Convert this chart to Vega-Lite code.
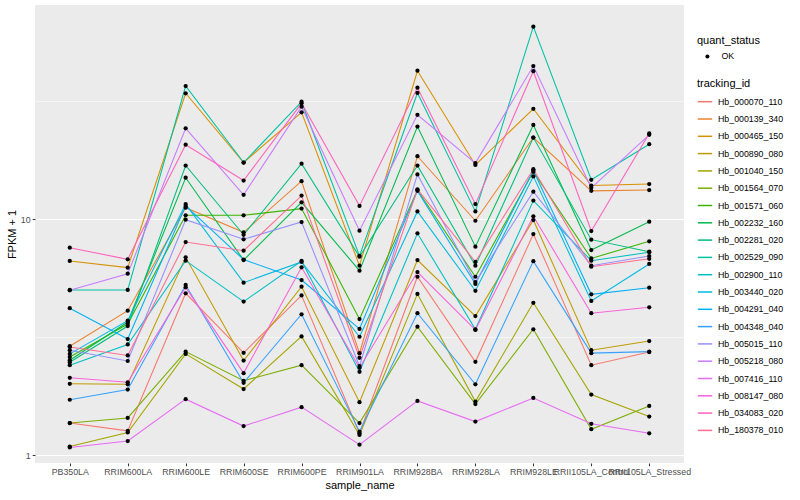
{
 "$schema": "https://vega.github.io/schema/vega-lite/v6.json",
 "width": 649,
 "height": 458,
 "autosize": {"type": "none"},
 "padding": {"left": 35, "top": 5, "right": 116, "bottom": 37},
 "background": "white",
 "config": {
  "font": "Liberation Sans",
  "view": {"fill": "#EBEBEB", "stroke": null},
  "axis": {"domain": false, "tickColor": "#333333", "tickSize": 2.75, "tickWidth": 1.07, "labelFontSize": 8.8, "labelColor": "#4D4D4D", "labelPadding": 2.2, "gridColor": "#FFFFFF", "gridWidth": 1.07, "titleFontSize": 11, "titleFontWeight": "normal", "titleColor": "#000000", "labelOverlap": false},
  "legend": {"labelFontSize": 8.8, "labelColor": "#000000", "titleFontSize": 11, "titleFontWeight": "normal", "titleColor": "#000000"}
 },
 "datasets": {
  "fpkm": [
{"tracking_id":"Hb_000070_110","sample_name":"PB350LA","FPKM":1.37,"quant_status":"OK"},
{"tracking_id":"Hb_000070_110","sample_name":"RRIM600LA","FPKM":1.27,"quant_status":"OK"},
{"tracking_id":"Hb_000070_110","sample_name":"RRIM600LE","FPKM":4.86,"quant_status":"OK"},
{"tracking_id":"Hb_000070_110","sample_name":"RRIM600SE","FPKM":2.72,"quant_status":"OK"},
{"tracking_id":"Hb_000070_110","sample_name":"RRIM600PE","FPKM":4.76,"quant_status":"OK"},
{"tracking_id":"Hb_000070_110","sample_name":"RRIM901LA","FPKM":1.24,"quant_status":"OK"},
{"tracking_id":"Hb_000070_110","sample_name":"RRIM928BA","FPKM":5.71,"quant_status":"OK"},
{"tracking_id":"Hb_000070_110","sample_name":"RRIM928LA","FPKM":2.49,"quant_status":"OK"},
{"tracking_id":"Hb_000070_110","sample_name":"RRIM928LE","FPKM":8.66,"quant_status":"OK"},
{"tracking_id":"Hb_000070_110","sample_name":"RRII105LA_Control","FPKM":2.41,"quant_status":"OK"},
{"tracking_id":"Hb_000070_110","sample_name":"RRII105LA_Stressed","FPKM":2.74,"quant_status":"OK"},
{"tracking_id":"Hb_000139_340","sample_name":"PB350LA","FPKM":2.90,"quant_status":"OK"},
{"tracking_id":"Hb_000139_340","sample_name":"RRIM600LA","FPKM":4.10,"quant_status":"OK"},
{"tracking_id":"Hb_000139_340","sample_name":"RRIM600LE","FPKM":11.2,"quant_status":"OK"},
{"tracking_id":"Hb_000139_340","sample_name":"RRIM600SE","FPKM":8.81,"quant_status":"OK"},
{"tracking_id":"Hb_000139_340","sample_name":"RRIM600PE","FPKM":14.5,"quant_status":"OK"},
{"tracking_id":"Hb_000139_340","sample_name":"RRIM901LA","FPKM":2.71,"quant_status":"OK"},
{"tracking_id":"Hb_000139_340","sample_name":"RRIM928BA","FPKM":18.5,"quant_status":"OK"},
{"tracking_id":"Hb_000139_340","sample_name":"RRIM928LA","FPKM":9.86,"quant_status":"OK"},
{"tracking_id":"Hb_000139_340","sample_name":"RRIM928LE","FPKM":22.2,"quant_status":"OK"},
{"tracking_id":"Hb_000139_340","sample_name":"RRII105LA_Control","FPKM":13.2,"quant_status":"OK"},
{"tracking_id":"Hb_000139_340","sample_name":"RRII105LA_Stressed","FPKM":13.3,"quant_status":"OK"},
{"tracking_id":"Hb_000465_150","sample_name":"PB350LA","FPKM":6.66,"quant_status":"OK"},
{"tracking_id":"Hb_000465_150","sample_name":"RRIM600LA","FPKM":6.24,"quant_status":"OK"},
{"tracking_id":"Hb_000465_150","sample_name":"RRIM600LE","FPKM":34.2,"quant_status":"OK"},
{"tracking_id":"Hb_000465_150","sample_name":"RRIM600SE","FPKM":17.4,"quant_status":"OK"},
{"tracking_id":"Hb_000465_150","sample_name":"RRIM600PE","FPKM":28.4,"quant_status":"OK"},
{"tracking_id":"Hb_000465_150","sample_name":"RRIM901LA","FPKM":6.36,"quant_status":"OK"},
{"tracking_id":"Hb_000465_150","sample_name":"RRIM928BA","FPKM":42.6,"quant_status":"OK"},
{"tracking_id":"Hb_000465_150","sample_name":"RRIM928LA","FPKM":17.0,"quant_status":"OK"},
{"tracking_id":"Hb_000465_150","sample_name":"RRIM928LE","FPKM":29.4,"quant_status":"OK"},
{"tracking_id":"Hb_000465_150","sample_name":"RRII105LA_Control","FPKM":13.9,"quant_status":"OK"},
{"tracking_id":"Hb_000465_150","sample_name":"RRII105LA_Stressed","FPKM":14.1,"quant_status":"OK"},
{"tracking_id":"Hb_000890_080","sample_name":"PB350LA","FPKM":2.01,"quant_status":"OK"},
{"tracking_id":"Hb_000890_080","sample_name":"RRIM600LA","FPKM":2.00,"quant_status":"OK"},
{"tracking_id":"Hb_000890_080","sample_name":"RRIM600LE","FPKM":6.90,"quant_status":"OK"},
{"tracking_id":"Hb_000890_080","sample_name":"RRIM600SE","FPKM":2.52,"quant_status":"OK"},
{"tracking_id":"Hb_000890_080","sample_name":"RRIM600PE","FPKM":5.18,"quant_status":"OK"},
{"tracking_id":"Hb_000890_080","sample_name":"RRIM901LA","FPKM":1.68,"quant_status":"OK"},
{"tracking_id":"Hb_000890_080","sample_name":"RRIM928BA","FPKM":6.72,"quant_status":"OK"},
{"tracking_id":"Hb_000890_080","sample_name":"RRIM928LA","FPKM":3.89,"quant_status":"OK"},
{"tracking_id":"Hb_000890_080","sample_name":"RRIM928LE","FPKM":9.93,"quant_status":"OK"},
{"tracking_id":"Hb_000890_080","sample_name":"RRII105LA_Control","FPKM":2.79,"quant_status":"OK"},
{"tracking_id":"Hb_000890_080","sample_name":"RRII105LA_Stressed","FPKM":3.05,"quant_status":"OK"},
{"tracking_id":"Hb_001040_150","sample_name":"PB350LA","FPKM":1.09,"quant_status":"OK"},
{"tracking_id":"Hb_001040_150","sample_name":"RRIM600LA","FPKM":1.25,"quant_status":"OK"},
{"tracking_id":"Hb_001040_150","sample_name":"RRIM600LE","FPKM":2.69,"quant_status":"OK"},
{"tracking_id":"Hb_001040_150","sample_name":"RRIM600SE","FPKM":1.91,"quant_status":"OK"},
{"tracking_id":"Hb_001040_150","sample_name":"RRIM600PE","FPKM":3.19,"quant_status":"OK"},
{"tracking_id":"Hb_001040_150","sample_name":"RRIM901LA","FPKM":1.22,"quant_status":"OK"},
{"tracking_id":"Hb_001040_150","sample_name":"RRIM928BA","FPKM":4.83,"quant_status":"OK"},
{"tracking_id":"Hb_001040_150","sample_name":"RRIM928LA","FPKM":1.69,"quant_status":"OK"},
{"tracking_id":"Hb_001040_150","sample_name":"RRIM928LE","FPKM":4.43,"quant_status":"OK"},
{"tracking_id":"Hb_001040_150","sample_name":"RRII105LA_Control","FPKM":1.81,"quant_status":"OK"},
{"tracking_id":"Hb_001040_150","sample_name":"RRII105LA_Stressed","FPKM":1.46,"quant_status":"OK"},
{"tracking_id":"Hb_001564_070","sample_name":"PB350LA","FPKM":1.37,"quant_status":"OK"},
{"tracking_id":"Hb_001564_070","sample_name":"RRIM600LA","FPKM":1.44,"quant_status":"OK"},
{"tracking_id":"Hb_001564_070","sample_name":"RRIM600LE","FPKM":2.75,"quant_status":"OK"},
{"tracking_id":"Hb_001564_070","sample_name":"RRIM600SE","FPKM":2.07,"quant_status":"OK"},
{"tracking_id":"Hb_001564_070","sample_name":"RRIM600PE","FPKM":2.41,"quant_status":"OK"},
{"tracking_id":"Hb_001564_070","sample_name":"RRIM901LA","FPKM":1.37,"quant_status":"OK"},
{"tracking_id":"Hb_001564_070","sample_name":"RRIM928BA","FPKM":3.51,"quant_status":"OK"},
{"tracking_id":"Hb_001564_070","sample_name":"RRIM928LA","FPKM":1.65,"quant_status":"OK"},
{"tracking_id":"Hb_001564_070","sample_name":"RRIM928LE","FPKM":3.42,"quant_status":"OK"},
{"tracking_id":"Hb_001564_070","sample_name":"RRII105LA_Control","FPKM":1.29,"quant_status":"OK"},
{"tracking_id":"Hb_001564_070","sample_name":"RRII105LA_Stressed","FPKM":1.62,"quant_status":"OK"},
{"tracking_id":"Hb_001571_060","sample_name":"PB350LA","FPKM":2.61,"quant_status":"OK"},
{"tracking_id":"Hb_001571_060","sample_name":"RRIM600LA","FPKM":3.60,"quant_status":"OK"},
{"tracking_id":"Hb_001571_060","sample_name":"RRIM600LE","FPKM":10.4,"quant_status":"OK"},
{"tracking_id":"Hb_001571_060","sample_name":"RRIM600SE","FPKM":10.4,"quant_status":"OK"},
{"tracking_id":"Hb_001571_060","sample_name":"RRIM600PE","FPKM":11.1,"quant_status":"OK"},
{"tracking_id":"Hb_001571_060","sample_name":"RRIM901LA","FPKM":3.78,"quant_status":"OK"},
{"tracking_id":"Hb_001571_060","sample_name":"RRIM928BA","FPKM":13.3,"quant_status":"OK"},
{"tracking_id":"Hb_001571_060","sample_name":"RRIM928LA","FPKM":5.71,"quant_status":"OK"},
{"tracking_id":"Hb_001571_060","sample_name":"RRIM928LE","FPKM":15.9,"quant_status":"OK"},
{"tracking_id":"Hb_001571_060","sample_name":"RRII105LA_Control","FPKM":6.83,"quant_status":"OK"},
{"tracking_id":"Hb_001571_060","sample_name":"RRII105LA_Stressed","FPKM":8.07,"quant_status":"OK"},
{"tracking_id":"Hb_002232_160","sample_name":"PB350LA","FPKM":2.53,"quant_status":"OK"},
{"tracking_id":"Hb_002232_160","sample_name":"RRIM600LA","FPKM":3.67,"quant_status":"OK"},
{"tracking_id":"Hb_002232_160","sample_name":"RRIM600LE","FPKM":15.0,"quant_status":"OK"},
{"tracking_id":"Hb_002232_160","sample_name":"RRIM600SE","FPKM":6.72,"quant_status":"OK"},
{"tracking_id":"Hb_002232_160","sample_name":"RRIM600PE","FPKM":11.8,"quant_status":"OK"},
{"tracking_id":"Hb_002232_160","sample_name":"RRIM901LA","FPKM":6.06,"quant_status":"OK"},
{"tracking_id":"Hb_002232_160","sample_name":"RRIM928BA","FPKM":24.7,"quant_status":"OK"},
{"tracking_id":"Hb_002232_160","sample_name":"RRIM928LA","FPKM":7.66,"quant_status":"OK"},
{"tracking_id":"Hb_002232_160","sample_name":"RRIM928LE","FPKM":25.1,"quant_status":"OK"},
{"tracking_id":"Hb_002232_160","sample_name":"RRII105LA_Control","FPKM":7.41,"quant_status":"OK"},
{"tracking_id":"Hb_002232_160","sample_name":"RRII105LA_Stressed","FPKM":9.77,"quant_status":"OK"},
{"tracking_id":"Hb_002281_020","sample_name":"PB350LA","FPKM":2.48,"quant_status":"OK"},
{"tracking_id":"Hb_002281_020","sample_name":"RRIM600LA","FPKM":3.53,"quant_status":"OK"},
{"tracking_id":"Hb_002281_020","sample_name":"RRIM600LE","FPKM":16.9,"quant_status":"OK"},
{"tracking_id":"Hb_002281_020","sample_name":"RRIM600SE","FPKM":8.60,"quant_status":"OK"},
{"tracking_id":"Hb_002281_020","sample_name":"RRIM600PE","FPKM":17.2,"quant_status":"OK"},
{"tracking_id":"Hb_002281_020","sample_name":"RRIM901LA","FPKM":6.94,"quant_status":"OK"},
{"tracking_id":"Hb_002281_020","sample_name":"RRIM928BA","FPKM":16.9,"quant_status":"OK"},
{"tracking_id":"Hb_002281_020","sample_name":"RRIM928LA","FPKM":6.36,"quant_status":"OK"},
{"tracking_id":"Hb_002281_020","sample_name":"RRIM928LE","FPKM":22.2,"quant_status":"OK"},
{"tracking_id":"Hb_002281_020","sample_name":"RRII105LA_Control","FPKM":8.20,"quant_status":"OK"},
{"tracking_id":"Hb_002281_020","sample_name":"RRII105LA_Stressed","FPKM":7.29,"quant_status":"OK"},
{"tracking_id":"Hb_002529_090","sample_name":"PB350LA","FPKM":5.02,"quant_status":"OK"},
{"tracking_id":"Hb_002529_090","sample_name":"RRIM600LA","FPKM":5.02,"quant_status":"OK"},
{"tracking_id":"Hb_002529_090","sample_name":"RRIM600LE","FPKM":36.7,"quant_status":"OK"},
{"tracking_id":"Hb_002529_090","sample_name":"RRIM600SE","FPKM":17.4,"quant_status":"OK"},
{"tracking_id":"Hb_002529_090","sample_name":"RRIM600PE","FPKM":31.5,"quant_status":"OK"},
{"tracking_id":"Hb_002529_090","sample_name":"RRIM901LA","FPKM":7.00,"quant_status":"OK"},
{"tracking_id":"Hb_002529_090","sample_name":"RRIM928BA","FPKM":34.3,"quant_status":"OK"},
{"tracking_id":"Hb_002529_090","sample_name":"RRIM928LA","FPKM":10.8,"quant_status":"OK"},
{"tracking_id":"Hb_002529_090","sample_name":"RRIM928LE","FPKM":65.5,"quant_status":"OK"},
{"tracking_id":"Hb_002529_090","sample_name":"RRII105LA_Control","FPKM":14.7,"quant_status":"OK"},
{"tracking_id":"Hb_002529_090","sample_name":"RRII105LA_Stressed","FPKM":20.8,"quant_status":"OK"},
{"tracking_id":"Hb_002900_110","sample_name":"PB350LA","FPKM":2.41,"quant_status":"OK"},
{"tracking_id":"Hb_002900_110","sample_name":"RRIM600LA","FPKM":2.95,"quant_status":"OK"},
{"tracking_id":"Hb_002900_110","sample_name":"RRIM600LE","FPKM":6.68,"quant_status":"OK"},
{"tracking_id":"Hb_002900_110","sample_name":"RRIM600SE","FPKM":4.48,"quant_status":"OK"},
{"tracking_id":"Hb_002900_110","sample_name":"RRIM600PE","FPKM":6.66,"quant_status":"OK"},
{"tracking_id":"Hb_002900_110","sample_name":"RRIM901LA","FPKM":2.26,"quant_status":"OK"},
{"tracking_id":"Hb_002900_110","sample_name":"RRIM928BA","FPKM":8.72,"quant_status":"OK"},
{"tracking_id":"Hb_002900_110","sample_name":"RRIM928LA","FPKM":3.42,"quant_status":"OK"},
{"tracking_id":"Hb_002900_110","sample_name":"RRIM928LE","FPKM":12.0,"quant_status":"OK"},
{"tracking_id":"Hb_002900_110","sample_name":"RRII105LA_Control","FPKM":6.68,"quant_status":"OK"},
{"tracking_id":"Hb_002900_110","sample_name":"RRII105LA_Stressed","FPKM":7.25,"quant_status":"OK"},
{"tracking_id":"Hb_003440_020","sample_name":"PB350LA","FPKM":2.69,"quant_status":"OK"},
{"tracking_id":"Hb_003440_020","sample_name":"RRIM600LA","FPKM":3.72,"quant_status":"OK"},
{"tracking_id":"Hb_003440_020","sample_name":"RRIM600LE","FPKM":11.6,"quant_status":"OK"},
{"tracking_id":"Hb_003440_020","sample_name":"RRIM600SE","FPKM":5.39,"quant_status":"OK"},
{"tracking_id":"Hb_003440_020","sample_name":"RRIM600PE","FPKM":6.60,"quant_status":"OK"},
{"tracking_id":"Hb_003440_020","sample_name":"RRIM901LA","FPKM":3.18,"quant_status":"OK"},
{"tracking_id":"Hb_003440_020","sample_name":"RRIM928BA","FPKM":10.8,"quant_status":"OK"},
{"tracking_id":"Hb_003440_020","sample_name":"RRIM928LA","FPKM":4.98,"quant_status":"OK"},
{"tracking_id":"Hb_003440_020","sample_name":"RRIM928LE","FPKM":15.2,"quant_status":"OK"},
{"tracking_id":"Hb_003440_020","sample_name":"RRII105LA_Control","FPKM":4.51,"quant_status":"OK"},
{"tracking_id":"Hb_003440_020","sample_name":"RRII105LA_Stressed","FPKM":6.47,"quant_status":"OK"},
{"tracking_id":"Hb_004291_040","sample_name":"PB350LA","FPKM":4.20,"quant_status":"OK"},
{"tracking_id":"Hb_004291_040","sample_name":"RRIM600LA","FPKM":3.11,"quant_status":"OK"},
{"tracking_id":"Hb_004291_040","sample_name":"RRIM600LE","FPKM":11.4,"quant_status":"OK"},
{"tracking_id":"Hb_004291_040","sample_name":"RRIM600SE","FPKM":6.75,"quant_status":"OK"},
{"tracking_id":"Hb_004291_040","sample_name":"RRIM600PE","FPKM":5.53,"quant_status":"OK"},
{"tracking_id":"Hb_004291_040","sample_name":"RRIM901LA","FPKM":3.43,"quant_status":"OK"},
{"tracking_id":"Hb_004291_040","sample_name":"RRIM928BA","FPKM":13.2,"quant_status":"OK"},
{"tracking_id":"Hb_004291_040","sample_name":"RRIM928LA","FPKM":5.32,"quant_status":"OK"},
{"tracking_id":"Hb_004291_040","sample_name":"RRIM928LE","FPKM":16.1,"quant_status":"OK"},
{"tracking_id":"Hb_004291_040","sample_name":"RRII105LA_Control","FPKM":4.81,"quant_status":"OK"},
{"tracking_id":"Hb_004291_040","sample_name":"RRII105LA_Stressed","FPKM":5.13,"quant_status":"OK"},
{"tracking_id":"Hb_004348_040","sample_name":"PB350LA","FPKM":1.72,"quant_status":"OK"},
{"tracking_id":"Hb_004348_040","sample_name":"RRIM600LA","FPKM":1.90,"quant_status":"OK"},
{"tracking_id":"Hb_004348_040","sample_name":"RRIM600LE","FPKM":5.27,"quant_status":"OK"},
{"tracking_id":"Hb_004348_040","sample_name":"RRIM600SE","FPKM":2.03,"quant_status":"OK"},
{"tracking_id":"Hb_004348_040","sample_name":"RRIM600PE","FPKM":3.96,"quant_status":"OK"},
{"tracking_id":"Hb_004348_040","sample_name":"RRIM901LA","FPKM":1.26,"quant_status":"OK"},
{"tracking_id":"Hb_004348_040","sample_name":"RRIM928BA","FPKM":4.00,"quant_status":"OK"},
{"tracking_id":"Hb_004348_040","sample_name":"RRIM928LA","FPKM":2.00,"quant_status":"OK"},
{"tracking_id":"Hb_004348_040","sample_name":"RRIM928LE","FPKM":6.65,"quant_status":"OK"},
{"tracking_id":"Hb_004348_040","sample_name":"RRII105LA_Control","FPKM":2.71,"quant_status":"OK"},
{"tracking_id":"Hb_004348_040","sample_name":"RRII105LA_Stressed","FPKM":2.75,"quant_status":"OK"},
{"tracking_id":"Hb_005015_110","sample_name":"PB350LA","FPKM":2.79,"quant_status":"OK"},
{"tracking_id":"Hb_005015_110","sample_name":"RRIM600LA","FPKM":2.51,"quant_status":"OK"},
{"tracking_id":"Hb_005015_110","sample_name":"RRIM600LE","FPKM":9.96,"quant_status":"OK"},
{"tracking_id":"Hb_005015_110","sample_name":"RRIM600SE","FPKM":8.23,"quant_status":"OK"},
{"tracking_id":"Hb_005015_110","sample_name":"RRIM600PE","FPKM":9.74,"quant_status":"OK"},
{"tracking_id":"Hb_005015_110","sample_name":"RRIM901LA","FPKM":2.39,"quant_status":"OK"},
{"tracking_id":"Hb_005015_110","sample_name":"RRIM928BA","FPKM":15.5,"quant_status":"OK"},
{"tracking_id":"Hb_005015_110","sample_name":"RRIM928LA","FPKM":5.42,"quant_status":"OK"},
{"tracking_id":"Hb_005015_110","sample_name":"RRIM928LE","FPKM":13.1,"quant_status":"OK"},
{"tracking_id":"Hb_005015_110","sample_name":"RRII105LA_Control","FPKM":6.36,"quant_status":"OK"},
{"tracking_id":"Hb_005015_110","sample_name":"RRII105LA_Stressed","FPKM":6.99,"quant_status":"OK"},
{"tracking_id":"Hb_005218_080","sample_name":"PB350LA","FPKM":5.00,"quant_status":"OK"},
{"tracking_id":"Hb_005218_080","sample_name":"RRIM600LA","FPKM":5.88,"quant_status":"OK"},
{"tracking_id":"Hb_005218_080","sample_name":"RRIM600LE","FPKM":24.3,"quant_status":"OK"},
{"tracking_id":"Hb_005218_080","sample_name":"RRIM600SE","FPKM":12.7,"quant_status":"OK"},
{"tracking_id":"Hb_005218_080","sample_name":"RRIM600PE","FPKM":30.0,"quant_status":"OK"},
{"tracking_id":"Hb_005218_080","sample_name":"RRIM901LA","FPKM":8.95,"quant_status":"OK"},
{"tracking_id":"Hb_005218_080","sample_name":"RRIM928BA","FPKM":27.7,"quant_status":"OK"},
{"tracking_id":"Hb_005218_080","sample_name":"RRIM928LA","FPKM":17.3,"quant_status":"OK"},
{"tracking_id":"Hb_005218_080","sample_name":"RRIM928LE","FPKM":44.6,"quant_status":"OK"},
{"tracking_id":"Hb_005218_080","sample_name":"RRII105LA_Control","FPKM":13.6,"quant_status":"OK"},
{"tracking_id":"Hb_005218_080","sample_name":"RRII105LA_Stressed","FPKM":22.8,"quant_status":"OK"},
{"tracking_id":"Hb_007416_110","sample_name":"PB350LA","FPKM":1.08,"quant_status":"OK"},
{"tracking_id":"Hb_007416_110","sample_name":"RRIM600LA","FPKM":1.15,"quant_status":"OK"},
{"tracking_id":"Hb_007416_110","sample_name":"RRIM600LE","FPKM":1.73,"quant_status":"OK"},
{"tracking_id":"Hb_007416_110","sample_name":"RRIM600SE","FPKM":1.33,"quant_status":"OK"},
{"tracking_id":"Hb_007416_110","sample_name":"RRIM600PE","FPKM":1.60,"quant_status":"OK"},
{"tracking_id":"Hb_007416_110","sample_name":"RRIM901LA","FPKM":1.11,"quant_status":"OK"},
{"tracking_id":"Hb_007416_110","sample_name":"RRIM928BA","FPKM":1.70,"quant_status":"OK"},
{"tracking_id":"Hb_007416_110","sample_name":"RRIM928LA","FPKM":1.39,"quant_status":"OK"},
{"tracking_id":"Hb_007416_110","sample_name":"RRIM928LE","FPKM":1.75,"quant_status":"OK"},
{"tracking_id":"Hb_007416_110","sample_name":"RRII105LA_Control","FPKM":1.36,"quant_status":"OK"},
{"tracking_id":"Hb_007416_110","sample_name":"RRII105LA_Stressed","FPKM":1.24,"quant_status":"OK"},
{"tracking_id":"Hb_008147_080","sample_name":"PB350LA","FPKM":2.13,"quant_status":"OK"},
{"tracking_id":"Hb_008147_080","sample_name":"RRIM600LA","FPKM":2.04,"quant_status":"OK"},
{"tracking_id":"Hb_008147_080","sample_name":"RRIM600LE","FPKM":5.15,"quant_status":"OK"},
{"tracking_id":"Hb_008147_080","sample_name":"RRIM600SE","FPKM":2.23,"quant_status":"OK"},
{"tracking_id":"Hb_008147_080","sample_name":"RRIM600PE","FPKM":6.26,"quant_status":"OK"},
{"tracking_id":"Hb_008147_080","sample_name":"RRIM901LA","FPKM":2.35,"quant_status":"OK"},
{"tracking_id":"Hb_008147_080","sample_name":"RRIM928BA","FPKM":5.98,"quant_status":"OK"},
{"tracking_id":"Hb_008147_080","sample_name":"RRIM928LA","FPKM":3.40,"quant_status":"OK"},
{"tracking_id":"Hb_008147_080","sample_name":"RRIM928LE","FPKM":10.3,"quant_status":"OK"},
{"tracking_id":"Hb_008147_080","sample_name":"RRII105LA_Control","FPKM":4.00,"quant_status":"OK"},
{"tracking_id":"Hb_008147_080","sample_name":"RRII105LA_Stressed","FPKM":4.24,"quant_status":"OK"},
{"tracking_id":"Hb_034083_020","sample_name":"PB350LA","FPKM":7.58,"quant_status":"OK"},
{"tracking_id":"Hb_034083_020","sample_name":"RRIM600LA","FPKM":6.77,"quant_status":"OK"},
{"tracking_id":"Hb_034083_020","sample_name":"RRIM600LE","FPKM":20.7,"quant_status":"OK"},
{"tracking_id":"Hb_034083_020","sample_name":"RRIM600SE","FPKM":14.6,"quant_status":"OK"},
{"tracking_id":"Hb_034083_020","sample_name":"RRIM600PE","FPKM":31.0,"quant_status":"OK"},
{"tracking_id":"Hb_034083_020","sample_name":"RRIM901LA","FPKM":11.4,"quant_status":"OK"},
{"tracking_id":"Hb_034083_020","sample_name":"RRIM928BA","FPKM":36.1,"quant_status":"OK"},
{"tracking_id":"Hb_034083_020","sample_name":"RRIM928LA","FPKM":11.6,"quant_status":"OK"},
{"tracking_id":"Hb_034083_020","sample_name":"RRIM928LE","FPKM":42.4,"quant_status":"OK"},
{"tracking_id":"Hb_034083_020","sample_name":"RRII105LA_Control","FPKM":8.92,"quant_status":"OK"},
{"tracking_id":"Hb_034083_020","sample_name":"RRII105LA_Stressed","FPKM":23.1,"quant_status":"OK"},
{"tracking_id":"Hb_180378_010","sample_name":"PB350LA","FPKM":2.88,"quant_status":"OK"},
{"tracking_id":"Hb_180378_010","sample_name":"RRIM600LA","FPKM":2.65,"quant_status":"OK"},
{"tracking_id":"Hb_180378_010","sample_name":"RRIM600LE","FPKM":8.01,"quant_status":"OK"},
{"tracking_id":"Hb_180378_010","sample_name":"RRIM600SE","FPKM":7.36,"quant_status":"OK"},
{"tracking_id":"Hb_180378_010","sample_name":"RRIM600PE","FPKM":12.6,"quant_status":"OK"},
{"tracking_id":"Hb_180378_010","sample_name":"RRIM901LA","FPKM":2.59,"quant_status":"OK"},
{"tracking_id":"Hb_180378_010","sample_name":"RRIM928BA","FPKM":13.4,"quant_status":"OK"},
{"tracking_id":"Hb_180378_010","sample_name":"RRIM928LA","FPKM":6.60,"quant_status":"OK"},
{"tracking_id":"Hb_180378_010","sample_name":"RRIM928LE","FPKM":16.3,"quant_status":"OK"},
{"tracking_id":"Hb_180378_010","sample_name":"RRII105LA_Control","FPKM":6.30,"quant_status":"OK"},
{"tracking_id":"Hb_180378_010","sample_name":"RRII105LA_Stressed","FPKM":6.80,"quant_status":"OK"}
  ]
 },
 "data": {"name": "fpkm"},
 "layer": [
  {
   "mark": {"type": "line", "strokeWidth": 1.07},
   "encoding": {
    "x": {"field": "sample_name", "type": "nominal", "sort": ["PB350LA","RRIM600LA","RRIM600LE","RRIM600SE","RRIM600PE","RRIM901LA","RRIM928BA","RRIM928LA","RRIM928LE","RRII105LA_Control","RRII105LA_Stressed"], "scale": {"type": "point", "padding": 0.6}, "axis": {"title": "sample_name", "labelAngle": 0, "titlePadding": 3}},
    "y": {"field": "FPKM", "type": "quantitative", "scale": {"type": "log", "domain": [0.928, 80.9], "nice": false, "zero": false}, "axis": {"title": "FPKM + 1", "values": [1, 3.1623, 10, 31.623], "labelExpr": "(datum.value == 1 || datum.value == 10) ? datum.label : ''", "format": "~g", "orient": "left", "titlePadding": 3, "gridWidth": {"condition": {"test": "datum.value == 1 || datum.value == 10", "value": 1.07}, "value": 0.55}, "tickOpacity": {"condition": {"test": "datum.value == 1 || datum.value == 10", "value": 1}, "value": 0}}},
    "stroke": {"field": "tracking_id", "type": "nominal", "scale": {"domain": ["Hb_000070_110","Hb_000139_340","Hb_000465_150","Hb_000890_080","Hb_001040_150","Hb_001564_070","Hb_001571_060","Hb_002232_160","Hb_002281_020","Hb_002529_090","Hb_002900_110","Hb_003440_020","Hb_004291_040","Hb_004348_040","Hb_005015_110","Hb_005218_080","Hb_007416_110","Hb_008147_080","Hb_034083_020","Hb_180378_010"], "range": ["#F8766D","#EA8331","#D89000","#C09B00","#A3A500","#7CAE00","#39B600","#00BB4E","#00BF7D","#00C1A3","#00BFC4","#00BAE0","#00B0F6","#35A2FF","#9590FF","#C77CFF","#E76BF3","#FA62DB","#FF62BC","#FF6C91"]}, "legend": {"title": "tracking_id", "orient": "none", "legendX": 662, "legendY": 73, "symbolType": "stroke", "symbolSize": 207, "symbolStrokeWidth": 1.5, "rowPadding": 4.3, "titlePadding": 4.7, "labelOffset": 5}}
   }
  },
  {
   "mark": {"type": "point", "filled": true, "size": 18, "opacity": 1, "shape": "circle"},
   "encoding": {
    "x": {"field": "sample_name", "type": "nominal", "sort": ["PB350LA","RRIM600LA","RRIM600LE","RRIM600SE","RRIM600PE","RRIM901LA","RRIM928BA","RRIM928LA","RRIM928LE","RRII105LA_Control","RRII105LA_Stressed"]},
    "y": {"field": "FPKM", "type": "quantitative"},
    "color": {"field": "quant_status", "type": "nominal", "scale": {"range": ["#000000"]}, "legend": {"title": "quant_status", "orient": "none", "legendX": 662, "legendY": 30, "symbolType": "circle", "symbolSize": 16, "symbolOffset": 6, "labelOffset": 9.7, "titlePadding": 6}}
   }
  }
 ]
}
